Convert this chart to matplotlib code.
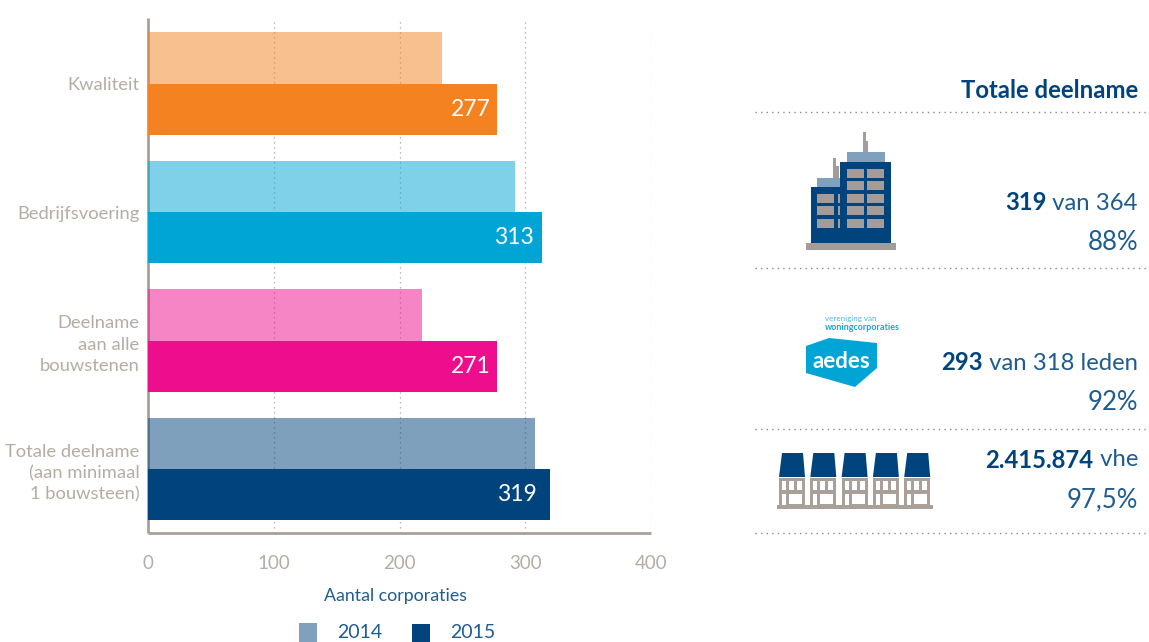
import matplotlib
matplotlib.use("Agg")
import matplotlib.pyplot as plt
from matplotlib.patches import Rectangle, Polygon

plt.rcParams["font.family"] = ["Lato", "DejaVu Sans"]

categories = ["Kwaliteit", "Bedrijfsvoering", "Deelname\naan alle\nbouwstenen",
              "Totale deelname\n(aan minimaal\n1 bouwsteen)"]
values_2014 = [234, 292, 218, 307.5]
values_2015 = [277.5, 313.5, 277.5, 319.5]
labels_2015 = ["277", "313", "271", "319"]
colors_2015 = ["#f58220", "#00a5d6", "#ee0d8c", "#00437d"]
xticks = [0, 100, 200, 300, 400]
legend_years = ["2014", "2015"]

NAVY = "#00437d"
BLUE_TXT = "#1f5c90"
GREY = "#aaa09a"
TICK_GREY = "#b5aca5"
W, H = 1149, 642

fig = plt.figure(figsize=(W / 100, H / 100), dpi=100)
ax = fig.add_axes([148 / W, 1 - 533 / H, (651 - 148) / W, (533 - 18) / H])

label_gap = [5, 7, 5, 10]
for i in range(len(categories)):
    ax.barh(i - 0.2, values_2014[i], height=0.4, color=colors_2015[i], alpha=0.5, lw=0, zorder=3)
    ax.barh(i + 0.2, values_2015[i], height=0.4, color=colors_2015[i], lw=0, zorder=3)
    ax.text(values_2015[i] - label_gap[i], i + 0.2, labels_2015[i], color="white", fontsize=16.5,
            ha="right", va="center", zorder=4)

ax.set_xlim(0, 400)
ax.set_ylim(3.498, -0.51)
ax.set_xticks(xticks)
ax.set_yticks(range(len(categories)))
ax.set_yticklabels(categories, linespacing=1.42)
ax.tick_params(axis="x", length=0, pad=16, labelsize=13.5, labelcolor=TICK_GREY)
ax.tick_params(axis="y", length=0, pad=6, labelsize=13.2, labelcolor=TICK_GREY)
ax.xaxis.grid(True, color="#a8a29c", linestyle=(0, (1, 3)), linewidth=0.9, zorder=1)
ax.set_axisbelow(True)
for s in ["top", "right"]:
    ax.spines[s].set_visible(False)
for s in ["left", "bottom"]:
    ax.spines[s].set_color(GREY)
    ax.spines[s].set_linewidth(2)
    ax.spines[s].set_capstyle("butt")

# overlay in pixel coordinates for the decoration on the right and the legend
ov = fig.add_axes([0, 0, 1, 1], facecolor="none")
ov.set_xlim(0, W)
ov.set_ylim(H, 0)
ov.axis("off")


def box(x0, y0, x1, y1, color):
    ov.add_patch(Rectangle((x0, y0), x1 - x0, y1 - y0, facecolor=color, lw=0))


ov.text(396, 596, "Aantal corporaties", color=BLUE_TXT, fontsize=12.8, ha="center", va="center")
box(299, 623, 317, 642, "#80a1be")
ov.text(337, 632, legend_years[0], color=BLUE_TXT, fontsize=14, va="center")
box(412, 624, 430, 642, NAVY)
ov.text(450, 632, legend_years[1], color=BLUE_TXT, fontsize=14, va="center")

for y in [112, 268, 429, 533]:
    ov.plot([755, 1147], [y, y], color="#8f8a85", linestyle=(0, (1, 3)), linewidth=1)

ov.text(1138, 90, "Totale deelname", color=NAVY, fontsize=17.2, fontweight="bold", ha="right", va="center")


def mixed(y, bold, rest):
    t = ov.text(1138, y, rest, color=BLUE_TXT, fontsize=17.2, ha="right", va="center")
    bb = t.get_window_extent(fig.canvas.get_renderer())
    ov.text(bb.x0, y, bold, color=NAVY, fontsize=17.2, fontweight="bold", ha="right", va="center")


mixed(203, "319", " van 364")
ov.text(1138, 242, "88%", color=BLUE_TXT, fontsize=18.5, ha="right", va="center")
mixed(363, "293", " van 318 leden")
ov.text(1138, 403, "92%", color=BLUE_TXT, fontsize=18.5, ha="right", va="center")
mixed(460, "2.415.874", " vhe")
ov.text(1138, 500, "97,5%", color=BLUE_TXT, fontsize=18.5, ha="right", va="center")

# office building
box(863, 132, 866, 152, "#a69c97")
box(866, 141, 868, 152, "#a69c97")
box(833, 158, 836, 178, "#a69c97")
box(836, 166, 839, 178, "#a69c97")
box(847, 152, 885, 162, "#80a1be")
box(817, 178, 840, 187, "#80a1be")
box(840, 162, 891, 243, NAVY)
box(811, 187, 840, 243, NAVY)
box(806, 243, 896, 250, "#a69c97")
for y0, y1 in [(169, 178), (181, 190), (194, 203), (206, 215), (219, 228)]:
    box(847, y0, 864, y1, "#a69c97")
    box(867, y0, 884, y1, "#a69c97")
for y0, y1 in [(194, 203), (206, 215), (219, 228)]:
    box(817, y0, 834, y1, "#a69c97")
    box(838, y0, 840, y1, "#a69c97")

# aedes logo
ov.text(825, 318, "vereniging van", color="#4db8dc", fontsize=5.8, va="center")
ov.text(825, 327, "woningcorporaties", color="#1ba6d3", fontsize=6.5, fontweight="bold", va="center")
ov.add_patch(Polygon([(806, 346), (829, 338), (877, 343), (877, 368), (855, 387), (806, 373)],
                     facecolor="#00a5d6", lw=0))
ov.text(841, 361, "aedes", color="white", fontsize=16, fontweight="bold", ha="center", va="center")

# row of houses
for k in range(5):
    dx = 31.3 * k
    ov.add_patch(Polygon([(779 + dx, 477), (782 + dx, 453), (803 + dx, 453), (805 + dx, 477)],
                         facecolor=NAVY, lw=0))
    box(779 + dx, 478, 805 + dx, 506, "#aaa09a")
    for x0, x1 in [(782, 786), (789, 794), (797, 802)]:
        box(x0 + dx, 481, x1 + dx, 490, "white")
    box(782 + dx, 494, 786 + dx, 507, "white")
    box(789 + dx, 494, 802 + dx, 504, "white")
box(777, 505, 933, 509, "#aaa09a")

fig.savefig("out.png", dpi=100)
